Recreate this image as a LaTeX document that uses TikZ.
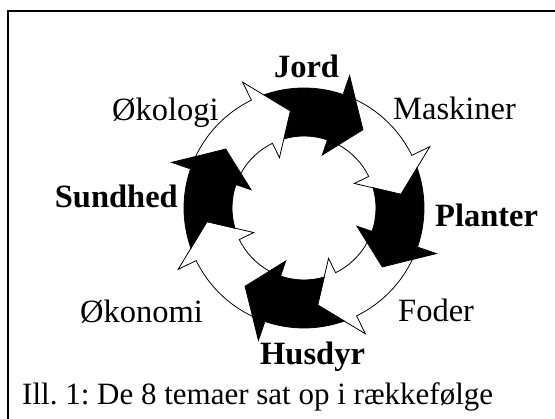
\documentclass[tikz,border=0pt]{standalone}
\usepackage{fontspec}
\setmainfont{Liberation Serif}
\frenchspacing
\begin{document}
\begin{tikzpicture}[x=1pt,y=1pt,
    lbl/.style={inner sep=0pt,font=\fontsize{32.5}{39}\selectfont},
    blbl/.style={lbl,font=\fontsize{32.5}{39}\selectfont\bfseries}]
    \useasboundingbox (0,0) rectangle (555,419);
    \draw[line width=1.5] (8,0) -- (8,408) -- (555,408);
    \coordinate (c) at (304,211);
    \begin{scope}[shift={(c)}]
      \foreach \a/\col in {98/black,53/white,8/black,-37/white,-82/black,-127/white,-172/black,143/white}
        \filldraw[fill=\col,line width=0.8] (\a+11.6:120) arc[start angle=\a+11.6,end angle=\a-27,radius=120]
          -- (\a-27:140) -- (\a-45:98) -- (\a-27:56) -- (\a-27:72)
          arc[start angle=\a-27,end angle=\a+8.3,radius=72] -- (\a:98) -- cycle;
    \end{scope}
    \node[blbl,anchor=base] (jord) at (306.5,341) {Jord};
    \node[lbl,anchor=base west] (maskiner) at (393,299) {Maskiner};
    \node[blbl,anchor=base west] (planter) at (435,192) {Planter};
    \node[lbl,anchor=base west] (foder) at (398,97) {Foder};
    \node[blbl,anchor=base west] (husdyr) at (260,54) {Husdyr};
    \node[lbl,anchor=base west] (okonomi) at (80,96) {Økonomi};
    \node[blbl,anchor=base east] (sundhed) at (178,211) {Sundhed};
    \node[lbl,anchor=base west] (okologi) at (112,298) {Økologi};
    \node[lbl,anchor=base west,font=\fontsize{31}{37}\selectfont] (caption) at (22,14) {Ill. 1: De 8 temaer sat op i rækkefølge};
  \end{tikzpicture}
\end{document}
